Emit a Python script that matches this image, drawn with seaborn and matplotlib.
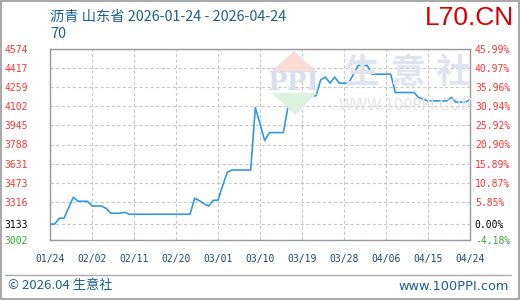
import matplotlib
matplotlib.use("Agg")
import matplotlib.pyplot as plt
import matplotlib.dates as mdates
from matplotlib.patches import Polygon, Rectangle
import seaborn as sns
import pandas as pd

# ---- data ----
dates = ["2026-01-24", "2026-01-25", "2026-01-26", "2026-01-27", "2026-01-29", "2026-01-30",
         "2026-02-01", "2026-02-02", "2026-02-04", "2026-02-05", "2026-02-06", "2026-02-08",
         "2026-02-09", "2026-02-10", "2026-02-23", "2026-02-24", "2026-02-25", "2026-02-26",
         "2026-02-27", "2026-02-28", "2026-03-01", "2026-03-02", "2026-03-03", "2026-03-04",
         "2026-03-08", "2026-03-09", "2026-03-10", "2026-03-11", "2026-03-12", "2026-03-15",
         "2026-03-16", "2026-03-17", "2026-03-19", "2026-03-20", "2026-03-22", "2026-03-23",
         "2026-03-24", "2026-03-25", "2026-03-26", "2026-03-27", "2026-03-29", "2026-03-30",
         "2026-03-31", "2026-04-02", "2026-04-03", "2026-04-07", "2026-04-08", "2026-04-12",
         "2026-04-13", "2026-04-15", "2026-04-19", "2026-04-20", "2026-04-21", "2026-04-23",
         "2026-04-24"]
prices = [3133, 3133, 3181, 3181, 3354, 3321,
          3321, 3282, 3282, 3263, 3222, 3222,
          3230, 3214, 3214, 3346, 3326, 3300,
          3282, 3329, 3329, 3450, 3560, 3578,
          3578, 4092, 3960, 3820, 3886, 3886,
          4100, 4142, 4150, 4189, 4189, 4320,
          4343, 4293, 4343, 4293, 4293, 4365,
          4438, 4438, 4367, 4367, 4216, 4216,
          4175, 4147, 4147, 4175, 4137, 4137,
          4156]
base_price = 3133
y_ticks = [3002, 3133, 3316, 3473, 3631, 3788, 3945, 4102, 4259, 4417, 4574]
pct_labels = ["-4.18%", "0.00%", "5.85%", "10.87%", "15.89%", "20.90%",
              "25.92%", "30.94%", "35.96%", "40.97%", "45.99%"]
x_ticks = ["2026-01-24", "2026-02-02", "2026-02-11", "2026-02-20", "2026-03-01", "2026-03-10",
           "2026-03-19", "2026-03-28", "2026-04-06", "2026-04-15", "2026-04-24"]
title_text = "沥青 山东省 2026-01-24 - 2026-04-24"
sub_text = "70"
brand = "L70.CN"
footer_left = "© 2026.04 生意社"
footer_right = "www.100PPI.com"

df = pd.DataFrame({"date": pd.to_datetime(dates), "price": prices})

sns.set_style("white")
plt.rcParams["font.family"] = ["Noto Sans CJK SC", "DejaVu Sans"]

W, H = 520, 300
fig = plt.figure(figsize=(W / 100, H / 100), dpi=100)


def P(x, y):
    return (x / W, 1 - y / H)


ax = fig.add_axes([50 / W, 1 - 240 / H, 420 / W, 191 / H])
ax.patch.set_alpha(0)

# watermark (decoration)
fig.patches.append(Polygon([P(294, 51), P(271, 72), P(317, 72)], closed=True,
                           transform=fig.transFigure, facecolor="#f9dcd6", edgecolor="none", zorder=0))
fig.patches.append(Polygon([P(272, 93), P(317, 93), P(295, 115)], closed=True,
                           transform=fig.transFigure, facecolor="#dcf1de", edgecolor="none", zorder=0))
fig.text(*P(294, 83), "PPI", ha="center", va="center", fontsize=19, fontweight="bold",
         color="#d6def0", family="DejaVu Serif", zorder=0)
for cx, ch in zip([362, 408, 453], "生意社"):
    fig.text(*P(cx, 72), ch, ha="center", va="center", fontsize=25, fontweight="bold",
             color="#dfe4ef", zorder=0)
fig.text(*P(406, 106), "WWW.100PPI.COM", ha="center", va="center", fontsize=10.5,
         color="#e4e4e4", family="DejaVu Sans", zorder=0)

sns.lineplot(data=df, x="date", y="price", ax=ax, color="#3399dd", linewidth=1.2, zorder=3)

ax.set_ylim(y_ticks[0], y_ticks[-1])
ax.set_xlim(pd.Timestamp(x_ticks[0]), pd.Timestamp(x_ticks[-1]))
ax.set_yticks(y_ticks)
ax.set_yticklabels([str(v) for v in y_ticks])
ax.set_xticks(pd.to_datetime(x_ticks))
ax.xaxis.set_major_formatter(mdates.DateFormatter("%m/%d"))
ax.set_xlabel("")
ax.set_ylabel("")
ax.grid(True, color="#c8c8c8", linestyle=(0, (3, 2)), linewidth=0.8)
ax.set_axisbelow(True)
for s in ax.spines.values():
    s.set_color("#999999")
    s.set_linewidth(1.0)
ax.tick_params(axis="both", length=0, labelsize=7)
ax.tick_params(axis="y", pad=16)
for lab in ax.get_yticklabels():
    lab.set_family("DejaVu Sans Mono")
    lab.set_horizontalalignment("right")
for lab in ax.get_xticklabels():
    lab.set_family("DejaVu Sans Mono")
    lab.set_color("#1a4a7a")
ax.tick_params(axis="x", pad=10)


def col(v):
    if v > base_price:
        return "#ff3333"
    if v < base_price:
        return "#33aa33"
    return "#000000"


for lab, v in zip(ax.get_yticklabels(), y_ticks):
    lab.set_color(col(v))

ax2 = ax.twinx()
ax2.set_ylim(ax.get_ylim())
ax2.set_yticks(y_ticks)
ax2.set_yticklabels(pct_labels)
ax2.tick_params(axis="y", length=0, labelsize=7, pad=3.5)
for lab, v in zip(ax2.get_yticklabels(), y_ticks):
    lab.set_color(col(v))
    lab.set_family("DejaVu Sans Mono")
for s in ax2.spines.values():
    s.set_visible(False)
ax2.grid(False)

# texts
fig.text(*P(50, 17), title_text, ha="left", va="center", fontsize=10.3, color="#1a5f8f")
fig.text(*P(50, 34), sub_text, ha="left", va="center", fontsize=10.3, color="#1a5f8f")
fig.text(*P(514, 18), brand, ha="right", va="center", fontsize=19, color="#dd0000",
         family="Liberation Sans")
fig.text(*P(8, 286), footer_left, ha="left", va="center", fontsize=9.5, color="#1a5f8f")
fig.text(*P(509, 286), footer_right, ha="right", va="center", fontsize=9.3, color="#1a5f8f",
         family="DejaVu Sans")

fig.add_artist(plt.Line2D([5 / W, 511 / W], [1 - 275 / H, 1 - 275 / H],
                          transform=fig.transFigure, color="#aaaaaa", linewidth=1))
fig.patches.append(Rectangle((0.001, 0.002), 0.997, 0.995, transform=fig.transFigure,
                             fill=False, edgecolor="#999999", linewidth=1.2))

fig.savefig("out.png", dpi=100)
